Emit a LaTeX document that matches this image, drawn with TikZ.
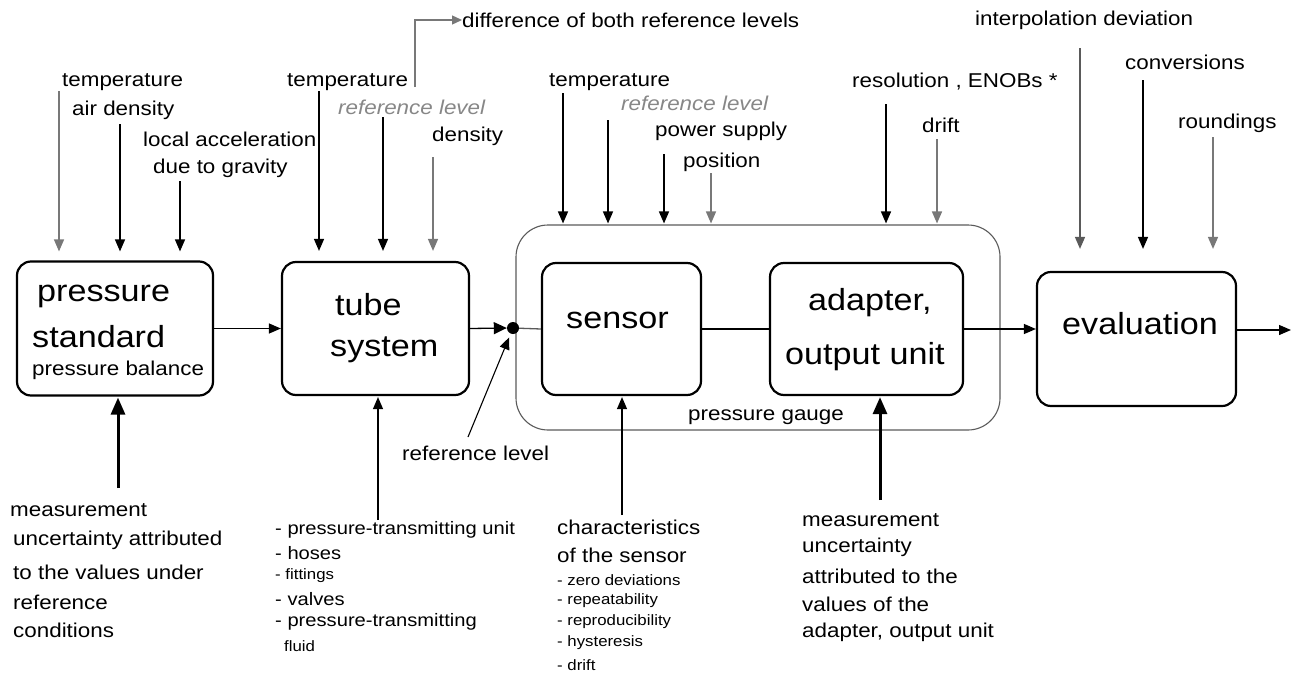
\documentclass[tikz,border=0pt]{standalone}
\usepackage{fontspec}
\setmainfont{Liberation Sans}[FakeStretch=1.12]
\usetikzlibrary{arrows.meta}
\newcommand{\fsz}[2]{\fontsize{#1}{#2}\selectfont}
\definecolor{refgray}{RGB}{135,135,135}
\definecolor{linegray}{RGB}{120,120,120}
\definecolor{gaugegray}{RGB}{90,90,90}
\begin{document}
\begin{tikzpicture}[x=1pt,y=-1pt,
  box/.style={draw, line width=2.2pt, rounded corners=14pt, inner sep=0},
  lbl/.style={anchor=west, inner sep=0, font=\fsz{20}{24}},
  big/.style={anchor=west, inner sep=0, font=\fsz{30.5}{36}},
  sml/.style={anchor=west, inner sep=0, font=\fsz{18}{22}},
  tiny/.style={anchor=west, inner sep=0, font=\fsz{15}{18}},
  reflbl/.style={anchor=west, inner sep=0, text=refgray, font=\fsz{20}{24}\itshape},
  arr/.style={-{Triangle[length=12pt,width=10pt]}, line width=1.4pt},
  garr/.style={arr, draw=linegray},
  thk/.style={-{Triangle[length=17pt,width=14pt]}, line width=3pt},
  con/.style={line width=1.3pt}
]
\useasboundingbox (0,0) rectangle (1298,680);

% ---------------- boxes
\node[box, minimum width=196pt, minimum height=134pt] (ps) at (115,328.5) {};
\node[box, minimum width=187pt, minimum height=133pt] (ts) at (375.5,328.5) {};
\node[draw=gaugegray, line width=1.1pt, rounded corners=32pt, inner sep=0,
      minimum width=484pt, minimum height=205pt] (pg) at (758,327.5) {};
\node[box, minimum width=159pt, minimum height=132pt] (sen) at (621.5,329) {};
\node[box, minimum width=193pt, minimum height=132pt] (ada) at (866.5,329) {};
\node[box, minimum width=199pt, minimum height=134pt] (ev) at (1136.5,339) {};

% box labels
\node[big] (psA) at (37,296) {pressure};
\node[big] (psB) at (32,337) {standard};
\node[lbl] (psC) at (32,370) {pressure balance};
\node[big] (tsA) at (335,305) {tube};
\node[big] (tsB) at (330,350) {system};
\node[big] (senA) at (566,320) {sensor};
\node[big] (adaA) at (808,303) {adapter,};
\node[big] (adaB) at (785,357) {output unit};
\node[big] (evA) at (1062,324) {evaluation};
\node[lbl] (pgA) at (688,417) {pressure gauge};

% ---------------- main chain
\node[circle, fill, inner sep=0, minimum size=12pt] (dot) at (513,328) {};
\draw[arr, line width=1.3pt] (ps.east) -- (ts.west);
\draw[-{Triangle[length=13pt,width=12pt]}, line width=1.3pt] (ts.east) -- (dot.west);
\draw[con, draw=gaugegray] (dot) -- (sen.west);
\draw[con] (sen.east) -- (ada.west);
\draw[arr, line width=1.3pt] (ada.east) -- (ada.east -| ev.west);
\coordinate (out) at (1291,330);
\draw[arr, line width=1.3pt] (out -| ev.east) -- (out);

% reference level (bottom)
\node[lbl] (rlb) at (402,453) {reference level};
\coordinate (rls) at (468,437);
\draw[arr, line width=1.1pt, shorten >=4pt] (rls) -- (dot);

% ---------------- top: pressure standard
\node[lbl] (t1) at (62,82) {temperature};
\node[lbl] (t2) at (72,110) {air density};
\node[lbl] (t3) at (143,139) {local acceleration};
\node[lbl] (t4) at (153,168) {due to gravity};
\coordinate (a1) at (59,91);
\coordinate (a2) at (120,124);
\coordinate (a3) at (180,181);
\draw[garr, shorten >=9pt] (a1) -- (a1 |- ps.north);
\draw[arr, shorten >=9pt] (a2) -- (a2 |- ps.north);
\draw[arr, shorten >=9pt] (a3) -- (a3 |- ps.north);

% ---------------- top: tube system
\node[lbl] (u1) at (287,82) {temperature};
\node[reflbl] (u2) at (338,107) {reference level};
\node[lbl] (u3) at (432,136) {density};
\coordinate (b1) at (319,91);
\coordinate (b2) at (383,117);
\coordinate (b3) at (433,157);
\draw[arr, shorten >=10pt] (b1) -- (b1 |- ts.north);
\draw[arr, shorten >=10pt] (b2) -- (b2 |- ts.north);
\draw[garr, shorten >=10pt] (b3) -- (b3 |- ts.north);
\node[lbl] (diff) at (462,20) {difference of both reference levels};
\coordinate (dA) at (415,87);
\draw[-{Triangle[length=10pt,width=9pt]}, line width=1.3pt, draw=linegray] (dA) |- (diff.west);

% ---------------- top: pressure gauge
\node[lbl] (g1t) at (549,82) {temperature};
\node[reflbl] (g2t) at (621,103) {reference level};
\node[lbl] (g3t) at (655,131) {power supply};
\node[lbl] (g4t) at (683,162) {position};
\node[lbl] (g5t) at (852,82) {resolution , ENOBs *};
\node[lbl] (g6t) at (922,125) {drift};
\coordinate (c1) at (563,93);
\coordinate (c2) at (608,120);
\coordinate (c3) at (664,154);
\coordinate (c4) at (711,173);
\coordinate (c5) at (886,104);
\coordinate (c6) at (937,139);
\draw[arr, shorten >=1pt] (c1) -- (c1 |- pg.north);
\draw[arr, shorten >=1pt] (c2) -- (c2 |- pg.north);
\draw[arr, shorten >=1pt] (c3) -- (c3 |- pg.north);
\draw[garr, shorten >=1pt] (c4) -- (c4 |- pg.north);
\draw[arr, shorten >=1pt] (c5) -- (c5 |- pg.north);
\draw[garr, shorten >=1pt] (c6) -- (c6 |- pg.north);

% ---------------- top: evaluation
\node[lbl] (e1t) at (975,20) {interpolation deviation};
\node[lbl] (e2t) at (1125,62) {conversions};
\node[lbl] (e3t) at (1178,123) {roundings};
\coordinate (d1) at (1080,48);
\coordinate (d2) at (1143,80);
\coordinate (d3) at (1213,137);
\draw[arr, draw=gaugegray, shorten >=22pt] (d1) -- (d1 |- ev.north);
\draw[arr, shorten >=22pt] (d2) -- (d2 |- ev.north);
\draw[garr, shorten >=22pt] (d3) -- (d3 |- ev.north);

% ---------------- bottom: pressure standard
\coordinate (p0) at (118,488);
\draw[thk, shorten >=1pt] (p0) -- (p0 |- ps.south);
\node[lbl] (m1) at (10,510) {measurement};
\node[lbl] (m2) at (13,540) {uncertainty attributed};
\node[lbl] (m3) at (13,572) {to the values under};
\node[lbl] (m4) at (13,602) {reference};
\node[lbl] (m5) at (13,630) {conditions};

% ---------------- bottom: tube system
\coordinate (q0) at (378,520);
\draw[arr, line width=1.2pt, shorten >=1pt] (q0) -- (q0 |- ts.south);
\node[sml] (l1) at (275,530) {- pressure-transmitting unit};
\node[sml] (l2) at (275,553) {- hoses};
\node[tiny] (l3) at (275,576) {- fittings};
\node[sml] (l4) at (275,599) {- valves};
\node[sml] (l5) at (275,622) {- pressure-transmitting};
\node[tiny] (l6) at (284,646) {fluid};

% ---------------- bottom: sensor
\coordinate (s0) at (622,515);
\draw[arr, line width=1.2pt, shorten >=1pt] (s0) -- (s0 |- sen.south);
\node[lbl] (k1) at (557,527) {characteristics};
\node[lbl] (k2) at (557,555) {of the sensor};
\node[tiny] (k3) at (557,580) {- zero deviations};
\node[tiny] (k4) at (557,601) {- repeatability};
\node[tiny] (k5) at (557,622) {- reproducibility};
\node[tiny] (k6) at (557,643) {- hysteresis};
\node[tiny] (k7) at (557,665) {- drift};

% ---------------- bottom: adapter
\coordinate (w0) at (880,500);
\draw[thk, shorten >=1pt] (w0) -- (w0 |- ada.south);
\node[lbl] (n1) at (802,520) {measurement};
\node[lbl] (n2) at (802,547) {uncertainty};
\node[lbl] (n3) at (802,576) {attributed to the};
\node[lbl] (n4) at (802,604) {values of the};
\node[lbl] (n5) at (802,632) {adapter, output unit};
\end{tikzpicture}
\end{document}
